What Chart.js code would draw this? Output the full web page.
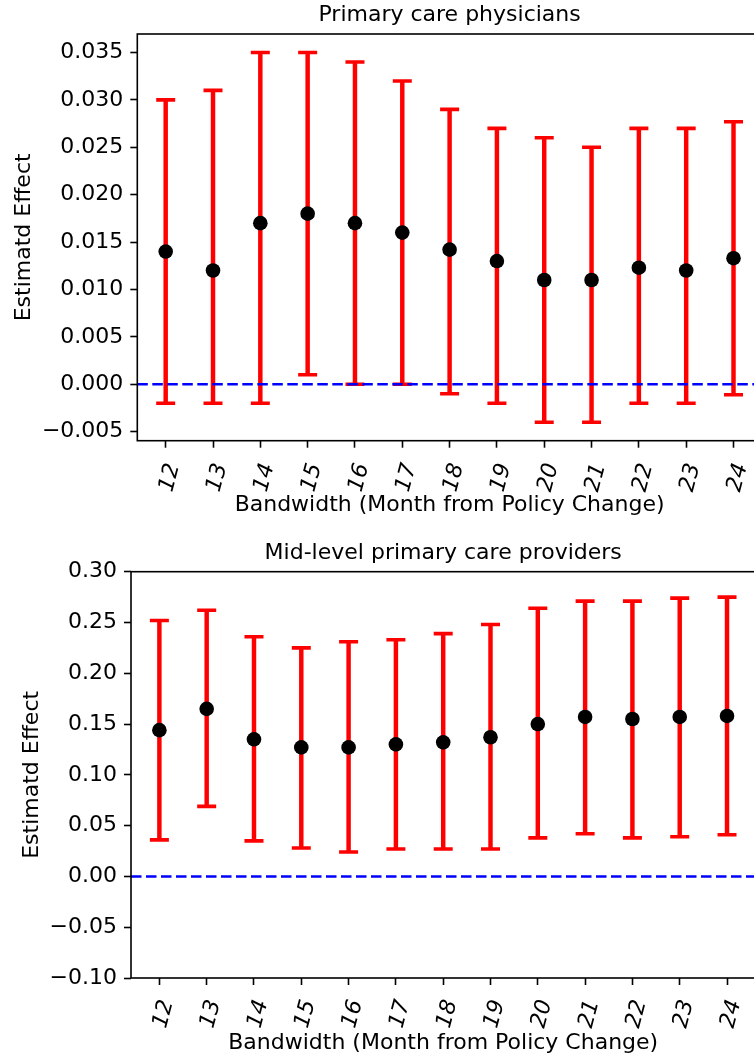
<!DOCTYPE html>
<html><head><meta charset="utf-8">
<script src="https://cdn.jsdelivr.net/npm/chart.js@4/dist/chart.umd.min.js"></script>
<style>
html,body{margin:0;padding:0;background:#fff;overflow:hidden;width:754px;height:1057px;position:relative;}
#w1{position:absolute;left:0;top:0;width:775px;height:528px;}
#w2{position:absolute;left:0;top:528px;width:775px;height:529px;}
canvas{display:block;}
</style></head><body>
<div id="w1"><canvas id="c1" width="775" height="528"></canvas></div>
<div id="w2"><canvas id="c2" width="775" height="529"></canvas></div>
<script>
// ---- data ----
const bandwidths = [12, 13, 14, 15, 16, 17, 18, 19, 20, 21, 22, 23, 24];

const pcpEstimate = [0.014, 0.012, 0.017, 0.018, 0.017, 0.016, 0.0142, 0.013, 0.011, 0.011, 0.0123, 0.012, 0.0133];
const pcpLower    = [-0.002, -0.002, -0.002, 0.001, 0.000, 0.000, -0.001, -0.002, -0.004, -0.004, -0.002, -0.002, -0.0011];
const pcpUpper    = [0.030, 0.031, 0.035, 0.035, 0.034, 0.032, 0.029, 0.027, 0.026, 0.025, 0.027, 0.027, 0.0277];

const midEstimate = [0.144, 0.165, 0.135, 0.127, 0.127, 0.130, 0.132, 0.137, 0.150, 0.157, 0.155, 0.157, 0.158];
const midLower    = [0.036, 0.069, 0.035, 0.028, 0.024, 0.027, 0.027, 0.027, 0.038, 0.042, 0.038, 0.039, 0.041];
const midUpper    = [0.252, 0.262, 0.236, 0.225, 0.231, 0.233, 0.239, 0.248, 0.264, 0.271, 0.271, 0.274, 0.275];

const pcpYTicks = [-0.005, 0.000, 0.005, 0.010, 0.015, 0.020, 0.025, 0.030, 0.035];
const midYTicks = [-0.10, -0.05, 0.00, 0.05, 0.10, 0.15, 0.20, 0.25, 0.30];
const referenceValue = 0;

const titleTop = 'Primary care physicians';
const titleBottom = 'Mid-level primary care providers';
const xTitle = 'Bandwidth (Month from Policy Change)';
const yTitle = 'Estimatd Effect';

// ---- styling ----
Chart.defaults.font.family = "'DejaVu Sans', sans-serif";
Chart.defaults.color = '#000';
const FS = 22;
const RED = '#ff0000';

function fmt(v, d) {
  let s = Math.abs(v) < 1e-12 ? (0).toFixed(d) : v.toFixed(d);
  return s.replace('-', '\u2212');
}

const framePlugin = {
  id: 'frameAndRef',
  afterDatasetsDraw(chart) {
    const {ctx, chartArea: a, scales} = chart;
    const yp = scales.y.getPixelForValue(referenceValue);
    ctx.save();
    ctx.beginPath(); ctx.rect(a.left, a.top, a.right - a.left, a.bottom - a.top); ctx.clip();
    ctx.strokeStyle = '#0000ff'; ctx.lineWidth = 2.6; ctx.setLineDash([10.5, 4.5]);
    ctx.beginPath(); ctx.moveTo(a.left, yp); ctx.lineTo(a.right, yp); ctx.stroke();
    ctx.restore();
    ctx.save();
    ctx.strokeStyle = '#000'; ctx.lineWidth = 1.6;
    ctx.strokeRect(a.left, a.top, a.right - a.left, a.bottom - a.top);
    ctx.restore();
  }
};

function makeChart(id, o) {
  const gridCfg = {drawOnChartArea: false, drawTicks: true, tickLength: 7, tickWidth: 1.6, tickColor: '#000', color: '#000', offset: false};
  return new Chart(document.getElementById(id), {
    type: 'scatter',
    data: {
      datasets: [
        {
          type: 'bar', order: 3,
          data: bandwidths.map((b, i) => ({x: b, y: [o.lower[i], o.upper[i]]})),
          backgroundColor: RED, borderWidth: 0, barThickness: 3.8, grouped: false
        },
        {
          order: 2,
          data: bandwidths.map((b, i) => ({x: b, y: o.lower[i]})).concat(bandwidths.map((b, i) => ({x: b, y: o.upper[i]}))),
          pointStyle: 'line', pointRadius: 9.5, borderColor: RED, pointBorderWidth: 3.6, backgroundColor: RED
        },
        {
          order: 1,
          data: bandwidths.map((b, i) => ({x: b, y: o.est[i]})),
          pointStyle: 'circle', pointRadius: 7.3, backgroundColor: '#000', borderColor: '#000', pointBorderWidth: 0
        }
      ]
    },
    options: {
      responsive: false, animation: false, devicePixelRatio: 1,
      layout: {padding: {left: 0, right: o.padRight, top: 0, bottom: 0}},
      plugins: {
        legend: {display: false}, tooltip: {enabled: false},
        title: {display: true, text: o.title, fullSize: false, color: '#000',
          font: {size: FS, weight: 'normal'}, padding: {top: o.titlePadTop, bottom: o.titlePadBottom}}
      },
      scales: {
        x: {
          type: 'linear', min: 11.4, max: 24.6, bounds: 'data', offset: false,
          afterBuildTicks: s => { s.ticks = bandwidths.map(v => ({value: v})); },
          afterFit: s => { s.height = o.xAxisH; s.paddingLeft = 0; s.paddingRight = 0; },
          ticks: {autoSkip: false, minRotation: 75, maxRotation: 75, padding: o.xTickPad, labelOffset: 8, color: '#000',
            font: {size: FS, style: 'italic'}, callback: v => String(v)},
          grid: gridCfg, border: {display: false},
          title: {display: true, text: xTitle, color: '#000', font: {size: FS}, padding: {top: 0, bottom: o.xTitlePadBottom}}
        },
        y: {
          type: 'linear', min: o.ymin, max: o.ymax, bounds: 'data', offset: false,
          afterBuildTicks: s => { s.ticks = o.yTicks.map(v => ({value: v})); },
          afterFit: s => { s.width = o.yAxisW; s.paddingTop = 0; s.paddingBottom = 0; },
          ticks: {padding: 7, color: '#000', font: {size: FS}, callback: v => fmt(v, o.dec)},
          grid: gridCfg, border: {display: false},
          title: {display: true, text: yTitle, color: '#000', font: {size: FS}, padding: {top: o.yTitlePadTop, bottom: 0}}
        }
      }
    },
    plugins: [framePlugin]
  });
}

makeChart('c1', {
  title: titleTop, est: pcpEstimate, lower: pcpLower, upper: pcpUpper,
  yTicks: pcpYTicks, dec: 3, ymin: -0.00595, ymax: 0.03695,
  padRight: 12, titlePadTop: 1.9, titlePadBottom: 5.7,
  xAxisH: 87.3, xTickPad: 13, xTitlePadBottom: 9.5,
  yAxisW: 137.3, yTitlePadTop: 10.9
});
makeChart('c2', {
  title: titleBottom, est: midEstimate, lower: midLower, upper: midUpper,
  yTicks: midYTicks, dec: 2, ymin: -0.10, ymax: 0.30,
  padRight: 19.6, titlePadTop: 11.7, titlePadBottom: 5.6,
  xAxisH: 79, xTickPad: 12, xTitlePadBottom: 0.5,
  yAxisW: 131, yTitlePadTop: 19.2
});
</script>
</body></html>
